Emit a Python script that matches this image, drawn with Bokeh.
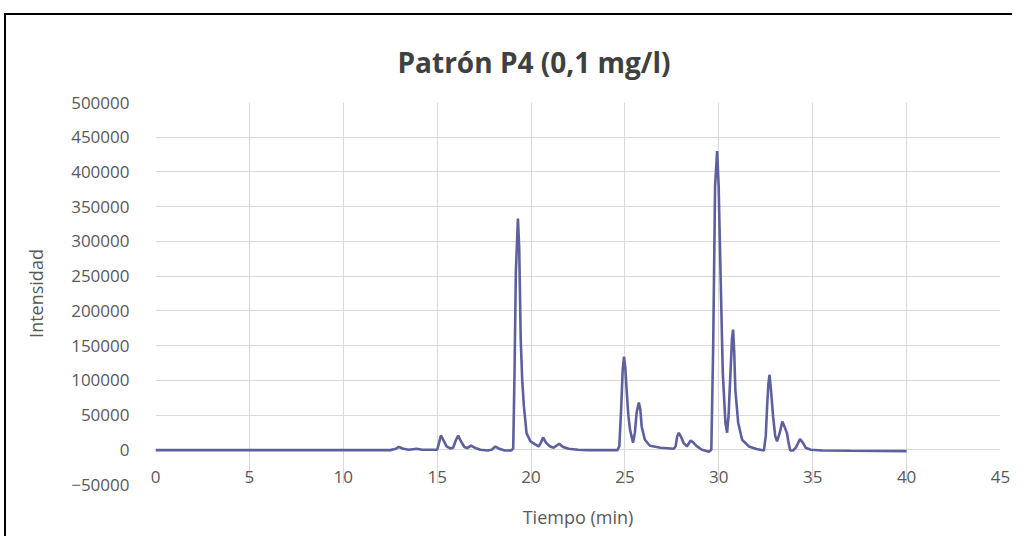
from bokeh.plotting import figure
from bokeh.models import Range1d, FixedTicker, BasicTickFormatter, ColumnDataSource
from bokeh.embed import file_html
from bokeh.resources import INLINE

# ---- data ----
time_min = [0, 5, 10, 12.5, 12.8, 12.96, 13.2, 13.5, 13.9, 14.2, 15.0, 15.1, 15.2, 15.35,
            15.5, 15.7, 15.85, 16.0, 16.12, 16.25, 16.45, 16.6, 16.8, 17.0, 17.3, 17.7,
            17.9, 18.1, 18.3, 18.6, 18.95, 19.05, 19.12, 19.19, 19.3, 19.37, 19.45, 19.53,
            19.62, 19.76, 19.97, 20.2, 20.4, 20.52, 20.64, 20.8, 21.0, 21.2, 21.5, 21.7,
            22.0, 22.5, 23.0, 24.0, 24.6, 24.7, 24.8, 24.88, 24.95, 25.02, 25.09, 25.18,
            25.27, 25.43, 25.53, 25.62, 25.74, 25.82, 25.89, 26.06, 26.33, 26.9, 27.6,
            27.7, 27.78, 27.87, 27.98, 28.12, 28.3, 28.5, 28.65, 28.84, 29.1, 29.47, 29.6,
            29.7, 29.8, 29.91, 29.99, 30.09, 30.21, 30.35, 30.44, 30.52, 30.62, 30.7,
            30.76, 30.82, 30.88, 31.03, 31.24, 31.6, 32.0, 32.4, 32.5, 32.57, 32.64, 32.7,
            32.78, 32.89, 33.0, 33.1, 33.25, 33.38, 33.5, 33.63, 33.7, 33.8, 33.95, 34.1,
            34.32, 34.48, 34.62, 34.9, 35.5, 37.0, 40.0]
intensity = [-500, -500, -500, -500, 1500, 4000, 1500, 0, 1500, 0, 0, 10000, 20600, 13000,
             5000, 2000, 3000, 14000, 20600, 13000, 4000, 2500, 6000, 3000, 0, -1000,
             0, 4700, 1500, -1000, -1000, 2000, 111000, 255000, 333000, 290000, 158500, 100000,
             62400, 24000, 12000, 8000, 4800, 10000, 17700, 10000, 5000, 3000, 8600, 4000,
             1500, 0, -500, -500, -500, 5000, 60000, 115000, 134000, 118000, 86000, 50000,
             29000, 10000, 25000, 53000, 68000, 58000, 33600, 14400, 5800, 3000, 1500,
             5000, 19000, 24500, 19000, 10000, 4800, 13400, 10000, 4800, 0, -3000, 0,
             150000, 380000, 430000, 380000, 255000, 111000, 39000, 24500, 50000, 111000, 160000,
             173000, 140000, 86000, 39000, 14400, 4800, 1000, -1000, 20000, 62000, 95000, 108000,
             85000, 48000, 20000, 12000, 25000, 40800, 33000, 24000, 12000, -1000, -1000, 3000,
             15400, 10000, 3000, 0, -1000, -1500, -2000]
x_ticks = [0, 5, 10, 15, 20, 25, 30, 35, 40, 45]
y_ticks = [-50000, 0, 50000, 100000, 150000, 200000, 250000, 300000, 350000, 400000, 450000, 500000]
chart_title = "Patrón P4 (0,1 mg/l)"
x_title = "Tiempo (min)"
y_title = "Intensidad"

TXT = "#595959"
FONT = "Open Sans"

p = figure(width=1008, height=523, output_backend="svg", toolbar_location=None,
           x_range=Range1d(0, 45), y_range=Range1d(-50000, 500000),
           min_border_left=149, min_border_right=14, min_border_top=87, min_border_bottom=54)
p.margin = (13, 0, 0, 4)
p.styles = {"border-top": "2px solid #000", "border-left": "2px solid #000"}
p.outline_line_color = None
p.background_fill_color = "white"
p.border_fill_color = "white"

p.title.text = chart_title
p.title.align = "left"
p.title.offset = 242
p.title.standoff = 43
p.title.text_font = FONT
p.title.text_font_size = "28px"
p.title.text_font_style = "bold"
p.title.text_color = "#404040"

src = ColumnDataSource(dict(t=time_min, v=intensity))
p.line("t", "v", source=src, line_color="#5E609E", line_width=2.6)

# grid
p.xgrid.ticker = FixedTicker(ticks=x_ticks)
p.ygrid.ticker = FixedTicker(ticks=y_ticks)
for g in (p.xgrid, p.ygrid):
    g.grid_line_color = "#d9d9d9"
    g.grid_line_width = 1

# y axis
ya = p.yaxis[0]
ya.ticker = FixedTicker(ticks=y_ticks)
ya.formatter = BasicTickFormatter(use_scientific=False)
ya.axis_line_color = None
ya.major_tick_line_color = None
ya.minor_tick_line_color = None
ya.major_label_standoff = 20
ya.major_label_text_font = FONT
ya.major_label_text_font_size = "17px"
ya.major_label_text_color = TXT
ya.axis_label = y_title
ya.axis_label_standoff = 20
ya.axis_label_text_font = FONT
ya.axis_label_text_font_size = "18px"
ya.axis_label_text_font_style = "normal"
ya.axis_label_text_color = TXT

# x axis: tick labels sit inside the plot, just above the bottom gridline
xa = p.xaxis[0]
xa.ticker = FixedTicker(ticks=x_ticks)
xa.axis_line_color = None
xa.major_tick_line_color = None
xa.minor_tick_line_color = None
xa.major_tick_out = 0
xa.major_tick_in = 0
xa.major_label_standoff = -14
xa.major_label_text_font = FONT
xa.major_label_text_font_size = "17px"
xa.major_label_text_color = TXT
xa.axis_label = x_title
xa.axis_label_standoff = 19
xa.axis_label_text_font = FONT
xa.axis_label_text_font_size = "18px"
xa.axis_label_text_font_style = "normal"
xa.axis_label_text_color = TXT

open("out.html", "w").write(file_html(p, INLINE))
